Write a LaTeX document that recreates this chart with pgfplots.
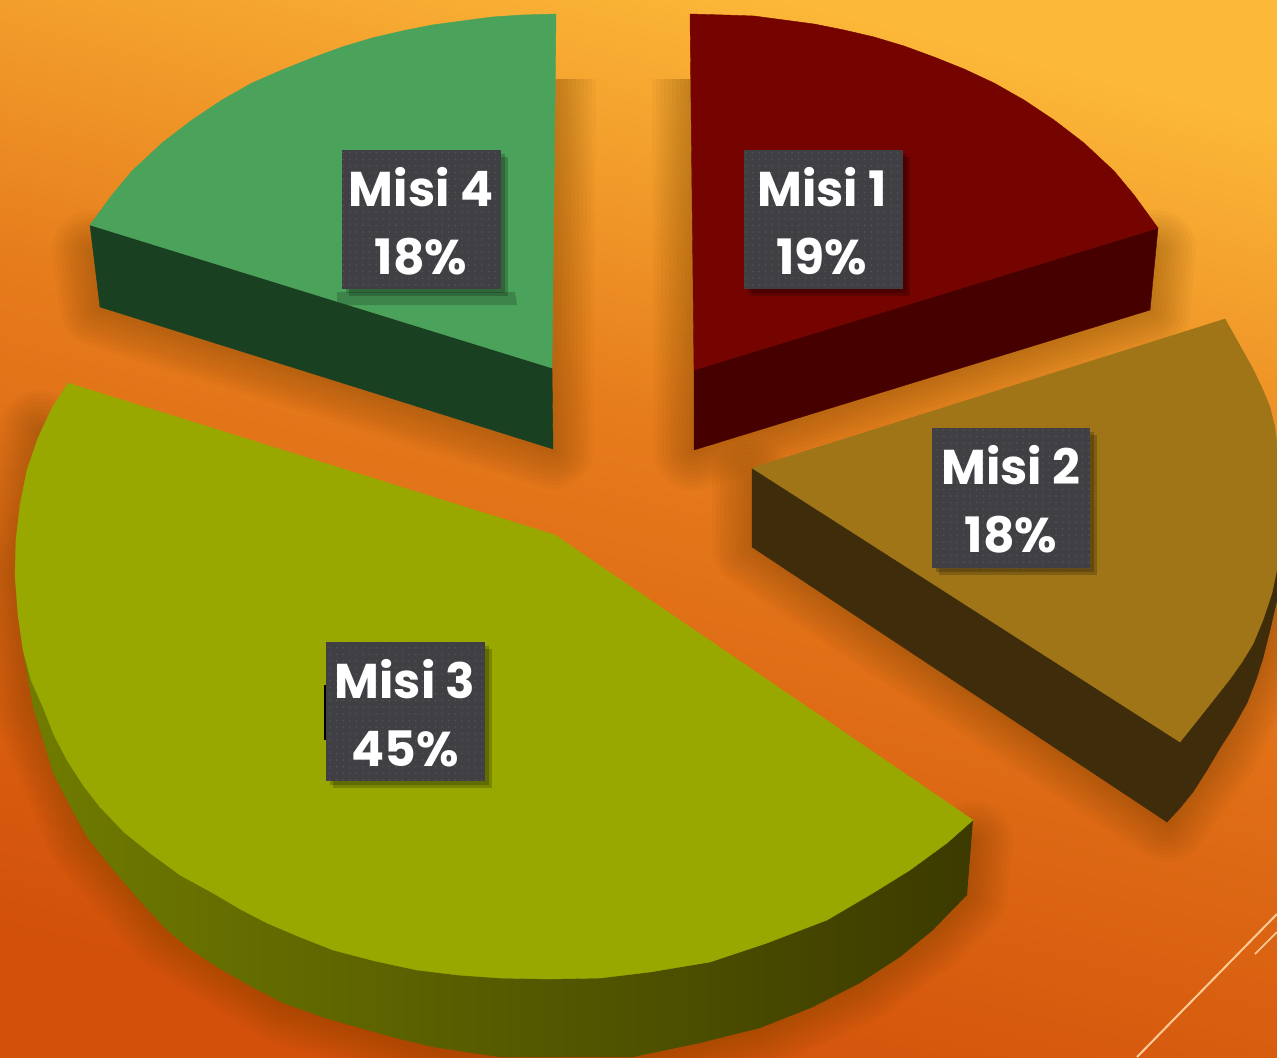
\documentclass[border=0pt]{standalone}
\usepackage{fontspec}
\setmainfont{Poppins}
\usepackage{pgfplots}
\usepackage{pgfplotstable}
\usetikzlibrary{patterns.meta}
\pgfplotsset{compat=1.18}
\definecolor{t1}{HTML}{750300}\definecolor{s1}{HTML}{470000}
\definecolor{t2}{HTML}{9F7518}\definecolor{s2}{HTML}{3F2C0A}
\definecolor{t3}{HTML}{99A800}\definecolor{s3a}{HTML}{707C00}\definecolor{s3m}{HTML}{484600}\definecolor{s3b}{HTML}{3C3A00}
\definecolor{t4}{HTML}{4BA25A}\definecolor{s4}{HTML}{1A4022}
\definecolor{box}{HTML}{404044}\definecolor{dot}{HTML}{545458}\definecolor{shd}{HTML}{6A3A00}
\definecolor{bga}{HTML}{D2500A}\definecolor{bgb}{HTML}{E67C1C}\definecolor{bgc}{HTML}{FCB838}
\pgfdeclareverticalshading{bgshade}{100bp}{color(0bp)=(bga);color(25bp)=(bga);color(55bp)=(bgb);color(75bp)=(bgc);color(100bp)=(bgc)}
\pgfplotstableread{
x y
694 370
690 14
724 15
754 16
784 20
814 24
844 30
874 37
904 46
934 57
964 69
994 83
1024 100
1054 120
1084 143
1114 171
1134 195
1158 228
}\topA
\pgfplotstableread{
x y
694 370
1158 228
1150 310
694 450
}\sideA
\pgfplotstableread{
x y
752 468
1225 319
1239 344
1253 369
1262 388
1270 407
1275 428
1277 445
1277 569
1272 593
1263 620
1253 644
1242 662
1230 679
1215 698
1200 717
1180 742
}\topB
\pgfplotstableread{
x y
752 468
1180 742
1230 679
1253 644
1272 593
1277 569
1277 600
1270 630
1263 658
1256 680
1247 703
1234 726
1220 748
1207 770
1193 792
1180 808
1167 822
752 547
}\sideB
\pgfplotstableread{
x y
555 535
68 383
52 408
38 438
27 470
20 505
16 540
15 575
18 615
23 650
31 680
43 707
54 735
67 760
83 785
100 807
124 832
150 853
180 875
213 893
240 909
267 923
300 937
333 950
375 961
417 970
458 975
500 978
550 979
600 978
650 972
710 962
767 943
827 920
873 893
910 870
947 843
973 820
}\topC
\pgfplotstableread{
x y
23 650
33 707
53 773
70 806
87 837
110 866
133 893
150 912
167 930
190 949
217 967
250 986
283 1003
325 1018
367 1030
400 1039
433 1047
466 1052
500 1057
633 1057
700 1043
760 1028
813 1007
860 983
900 957
933 930
967 895
973 820
910 870
827 920
710 962
600 978
500 978
333 950
213 893
100 807
43 707
}\sideC
\pgfplotstableread{
x y
552 368
556 14
522 15
492 17
462 21
432 25
402 31
372 38
342 47
312 58
282 70
252 83
222 100
192 120
162 143
132 171
112 195
90 225
}\topD
\pgfplotstableread{
x y
552 368
90 225
100 307
553 449
}\sideD
\pgfplotstableread{
x y
692 60
694 450
1150 310
1156 250
}\shA
\pgfplotstableread{
x y
556 60
553 449
100 307
92 250
}\shD
\pgfplotstableread{
x y
752 480
752 547
1167 822
1220 748
1263 658
1277 600
}\shB
\pgfplotstableread{
x y
40 430
15 575
33 707
87 837
167 930
283 1003
433 1047
500 1057
633 1057
760 1028
860 983
933 930
967 895
973 840
}\shC
\newcommand{\shadowof}[1]{%
  \pgfplotsinvokeforeach{8,16,24,32,40,48,56,64,72,80}{%
    \addplot[draw=shd,draw opacity=0.04,line width=##1bp,line join=round,line cap=round] table {#1};
  }%
}
\begin{document}
\begin{tikzpicture}
\begin{axis}[scale only axis,width=1277bp,height=1057bp,xmin=0,xmax=1277,ymin=0,ymax=1057,y dir=reverse,hide axis,clip=true,
  dots/.style={pattern={Dots[distance=6.6bp,radius=0.9bp]},pattern color=dot,draw=none},
  bs/.style={fill=black,fill opacity=0.2,draw=none}]
\fill[shading=bgshade,shading angle=-14] (rel axis cs:0,0) rectangle (rel axis cs:1,1);
\addplot[draw=white!60!orange,line width=2bp] coordinates {(1137,1057) (1277,914)};
\addplot[draw=white!60!orange,line width=1.5bp] coordinates {(1255,954) (1277,932)};
\begin{scope}
\clip (axis cs:0,80) rectangle (axis cs:1277,1057);
\shadowof{\shA}\shadowof{\shD}\shadowof{\shB}\shadowof{\shC}
\end{scope}
\addplot[fill=s4,draw=s4] table {\sideD} --cycle;
\addplot[fill=t4,draw=t4] table {\topD} --cycle;
\addplot[fill=s1,draw=s1] table {\sideA} --cycle;
\addplot[fill=t1,draw=t1] table {\topA} --cycle;
\addplot[fill=s2,draw=s2] table {\sideB} --cycle;
\addplot[fill=t2,draw=t2] table {\topB} --cycle;
\addplot[left color=s3a,middle color=s3m,right color=s3b,draw=none] table {\sideC} --cycle;
\addplot[fill=t3,draw=t3] table {\topC} --cycle;
\addplot[fill=s4,fill opacity=0.3,draw=none] coordinates {(337,292) (515,292) (517,305) (337,305)} --cycle;
\addplot[draw=black,line width=2bp] coordinates {(325,685) (325,740)};
% label boxes
\addplot[bs] coordinates {(748,154) (907,154) (907,293) (748,293)} --cycle;
\addplot[bs] coordinates {(751,157) (910,157) (910,296) (751,296)} --cycle;
\addplot[fill=box,draw=none] coordinates {(744,150) (903,150) (903,289) (744,289)} --cycle;
\addplot[dots] coordinates {(744,150) (903,150) (903,289) (744,289)} --cycle;
\addplot[bs] coordinates {(936,432) (1094,432) (1094,572) (936,572)} --cycle;
\addplot[bs] coordinates {(939,435) (1097,435) (1097,575) (939,575)} --cycle;
\addplot[fill=box,draw=none] coordinates {(932,428) (1090,428) (1090,568) (932,568)} --cycle;
\addplot[dots] coordinates {(932,428) (1090,428) (1090,568) (932,568)} --cycle;
\addplot[bs] coordinates {(330,646) (489,646) (489,785) (330,785)} --cycle;
\addplot[bs] coordinates {(333,649) (492,649) (492,788) (333,788)} --cycle;
\addplot[fill=box,draw=none] coordinates {(326,642) (485,642) (485,781) (326,781)} --cycle;
\addplot[dots] coordinates {(326,642) (485,642) (485,781) (326,781)} --cycle;
\addplot[bs] coordinates {(346,154) (505,154) (505,293) (346,293)} --cycle;
\addplot[bs] coordinates {(349,157) (508,157) (508,296) (349,296)} --cycle;
\addplot[fill=box,draw=none] coordinates {(342,150) (501,150) (501,289) (342,289)} --cycle;
\addplot[dots] coordinates {(342,150) (501,150) (501,289) (342,289)} --cycle;
\tikzset{lbl/.style={text=white,align=center,font=\fontsize{49}{68}\selectfont\bfseries,inner sep=0pt}}
\node[lbl] at (axis cs:822,221) {Misi 1\\19\%};
\node[lbl] at (axis cs:1011,499) {Misi 2\\18\%};
\node[lbl] at (axis cs:405,713) {Misi 3\\45\%};
\node[lbl] at (axis cs:421,221) {Misi 4\\18\%};
\end{axis}
\end{tikzpicture}
\end{document}
